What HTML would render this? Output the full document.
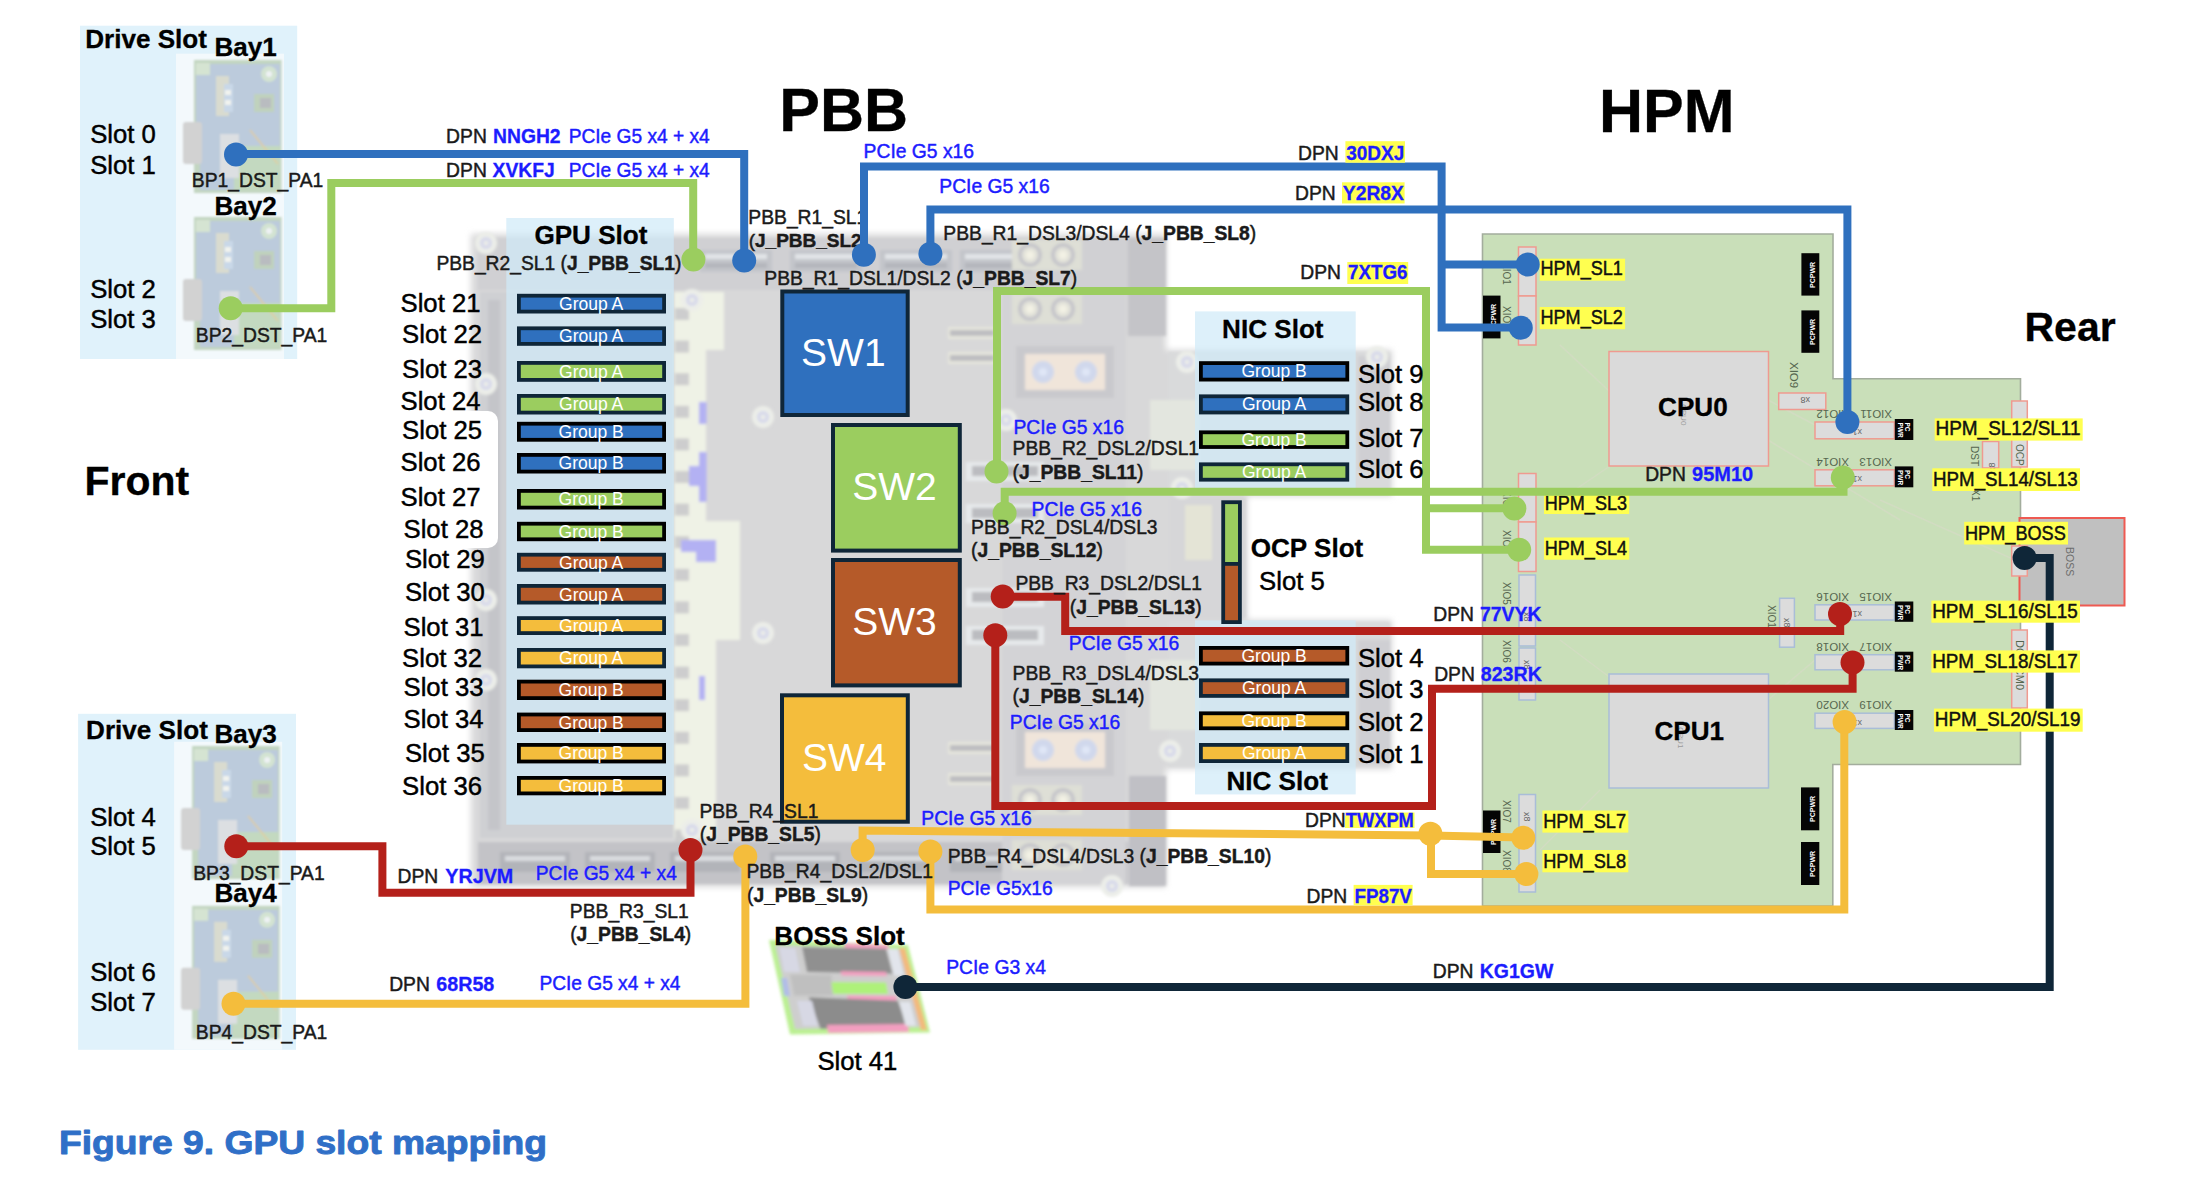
<!DOCTYPE html>
<html lang="en"><head><meta charset="utf-8"><title>Figure 9. GPU slot mapping</title>
<style>html,body{margin:0;padding:0;background:#fff;}body{width:2192px;height:1192px;overflow:hidden;}svg{display:block;}text{white-space:pre;}</style></head>
<body>
<svg width="2192" height="1192" viewBox="0 0 2192 1192" font-family="'Liberation Sans', Arial, sans-serif">
<defs>
<filter id="b1" x="-5%" y="-5%" width="110%" height="110%"><feGaussianBlur stdDeviation="1"/></filter>
<filter id="b15" x="-5%" y="-5%" width="110%" height="110%"><feGaussianBlur stdDeviation="1.4"/></filter>
<filter id="b2" x="-5%" y="-5%" width="110%" height="110%"><feGaussianBlur stdDeviation="2"/></filter>
<filter id="b3" x="-5%" y="-5%" width="110%" height="110%"><feGaussianBlur stdDeviation="3.2"/></filter>
<filter id="b05" x="-5%" y="-5%" width="110%" height="110%"><feGaussianBlur stdDeviation="0.6"/></filter>

</defs>
<rect x="0.0" y="0.0" width="2192.0" height="1192.0" fill="#ffffff" />
<rect x="80.0" y="25.7" width="217.2" height="333.3" fill="#e0f2fb" />
<rect x="176.0" y="53.7" width="108.0" height="305.3" fill="#f3f9fc" />
<g filter="url(#b1)"><g transform="translate(194.0 60)">
  <rect x="0" y="0" width="87.5" height="133" fill="#c3d6c1"/>
  <rect x="2" y="4" width="84" height="82" fill="#bccbdc"/>
  <rect x="6" y="78" width="34" height="52" fill="#bccbdc"/>
  <rect x="40" y="86" width="46" height="44" fill="#c3d9c0"/>
  <rect x="-11" y="62" width="19" height="42" rx="3" fill="#d2d2d2"/>
  <rect x="2" y="3" width="14" height="12" fill="#d5e4d2"/>
  <circle cx="75" cy="14" r="8" fill="#d3e3d2"/><circle cx="75" cy="14" r="3" fill="#eef2f4"/>
  <rect x="22" y="16" width="13" height="40" fill="#d9dbcf"/>
  <rect x="30" y="24" width="9" height="28" fill="#c9d8e8"/>
  <rect x="31" y="30" width="6" height="5" fill="#f1f3ee"/><rect x="31" y="40" width="6" height="5" fill="#f1f3ee"/>
  <rect x="60" y="34" width="20" height="18" fill="#c0d2bd"/><rect x="66" y="38" width="11" height="10" fill="#b9bcc0"/>
  <rect x="26" y="74" width="19" height="44" fill="#dcdfe2"/>
  <path d="M56 70 L84 104" stroke="#e0cda0" stroke-width="1.5"/>
</g></g>
<g filter="url(#b1)"><g transform="translate(194.0 217)">
  <rect x="0" y="0" width="87.5" height="133" fill="#c3d6c1"/>
  <rect x="2" y="4" width="84" height="82" fill="#bccbdc"/>
  <rect x="6" y="78" width="34" height="52" fill="#bccbdc"/>
  <rect x="40" y="86" width="46" height="44" fill="#c3d9c0"/>
  <rect x="-11" y="62" width="19" height="42" rx="3" fill="#d2d2d2"/>
  <rect x="2" y="3" width="14" height="12" fill="#d5e4d2"/>
  <circle cx="75" cy="14" r="8" fill="#d3e3d2"/><circle cx="75" cy="14" r="3" fill="#eef2f4"/>
  <rect x="22" y="16" width="13" height="40" fill="#d9dbcf"/>
  <rect x="30" y="24" width="9" height="28" fill="#c9d8e8"/>
  <rect x="31" y="30" width="6" height="5" fill="#f1f3ee"/><rect x="31" y="40" width="6" height="5" fill="#f1f3ee"/>
  <rect x="60" y="34" width="20" height="18" fill="#c0d2bd"/><rect x="66" y="38" width="11" height="10" fill="#b9bcc0"/>
  <rect x="26" y="74" width="19" height="44" fill="#dcdfe2"/>
  <path d="M56 70 L84 104" stroke="#e0cda0" stroke-width="1.5"/>
</g></g>
<rect x="78.1" y="713.8" width="217.9" height="336.0" fill="#e0f2fb" />
<rect x="174.1" y="741.8" width="108.0" height="308.0" fill="#f3f9fc" />
<g filter="url(#b1)"><g transform="translate(192.1 746)">
  <rect x="0" y="0" width="87.5" height="133" fill="#c3d6c1"/>
  <rect x="2" y="4" width="84" height="82" fill="#bccbdc"/>
  <rect x="6" y="78" width="34" height="52" fill="#bccbdc"/>
  <rect x="40" y="86" width="46" height="44" fill="#c3d9c0"/>
  <rect x="-11" y="62" width="19" height="42" rx="3" fill="#d2d2d2"/>
  <rect x="2" y="3" width="14" height="12" fill="#d5e4d2"/>
  <circle cx="75" cy="14" r="8" fill="#d3e3d2"/><circle cx="75" cy="14" r="3" fill="#eef2f4"/>
  <rect x="22" y="16" width="13" height="40" fill="#d9dbcf"/>
  <rect x="30" y="24" width="9" height="28" fill="#c9d8e8"/>
  <rect x="31" y="30" width="6" height="5" fill="#f1f3ee"/><rect x="31" y="40" width="6" height="5" fill="#f1f3ee"/>
  <rect x="60" y="34" width="20" height="18" fill="#c0d2bd"/><rect x="66" y="38" width="11" height="10" fill="#b9bcc0"/>
  <rect x="26" y="74" width="19" height="44" fill="#dcdfe2"/>
  <path d="M56 70 L84 104" stroke="#e0cda0" stroke-width="1.5"/>
</g></g>
<g filter="url(#b1)"><g transform="translate(192.1 905.8)">
  <rect x="0" y="0" width="87.5" height="133" fill="#c3d6c1"/>
  <rect x="2" y="4" width="84" height="82" fill="#bccbdc"/>
  <rect x="6" y="78" width="34" height="52" fill="#bccbdc"/>
  <rect x="40" y="86" width="46" height="44" fill="#c3d9c0"/>
  <rect x="-11" y="62" width="19" height="42" rx="3" fill="#d2d2d2"/>
  <rect x="2" y="3" width="14" height="12" fill="#d5e4d2"/>
  <circle cx="75" cy="14" r="8" fill="#d3e3d2"/><circle cx="75" cy="14" r="3" fill="#eef2f4"/>
  <rect x="22" y="16" width="13" height="40" fill="#d9dbcf"/>
  <rect x="30" y="24" width="9" height="28" fill="#c9d8e8"/>
  <rect x="31" y="30" width="6" height="5" fill="#f1f3ee"/><rect x="31" y="40" width="6" height="5" fill="#f1f3ee"/>
  <rect x="60" y="34" width="20" height="18" fill="#c0d2bd"/><rect x="66" y="38" width="11" height="10" fill="#b9bcc0"/>
  <rect x="26" y="74" width="19" height="44" fill="#dcdfe2"/>
  <path d="M56 70 L84 104" stroke="#e0cda0" stroke-width="1.5"/>
</g></g>
<g filter="url(#b3)">
<path d="M471 234 H1166 V350 H1392 V496 H1247 V620 H1392 V769 H1166 V887 H471 Z" fill="#d8d8d9"/>
</g>
<g filter="url(#b15)">
<rect x="478.0" y="238.0" width="650.0" height="52.0" fill="#d0d0d3" />
<rect x="700.0" y="250.0" width="72.0" height="22.0" fill="#c3c5ca" />
<rect x="705.0" y="254.0" width="62.0" height="5.0" fill="#e2e5e8" />
<rect x="705.0" y="263.0" width="62.0" height="5.0" fill="#b4b6bc" />
<rect x="790.0" y="250.0" width="72.0" height="22.0" fill="#c3c5ca" />
<rect x="795.0" y="254.0" width="62.0" height="5.0" fill="#e2e5e8" />
<rect x="795.0" y="263.0" width="62.0" height="5.0" fill="#b4b6bc" />
<rect x="880.0" y="250.0" width="72.0" height="22.0" fill="#c3c5ca" />
<rect x="885.0" y="254.0" width="62.0" height="5.0" fill="#e2e5e8" />
<rect x="885.0" y="263.0" width="62.0" height="5.0" fill="#b4b6bc" />
<rect x="960.0" y="250.0" width="72.0" height="22.0" fill="#c3c5ca" />
<rect x="965.0" y="254.0" width="62.0" height="5.0" fill="#e2e5e8" />
<rect x="965.0" y="263.0" width="62.0" height="5.0" fill="#b4b6bc" />
<rect x="478.0" y="842.0" width="650.0" height="42.0" fill="#c3c3c7" />
<rect x="500.0" y="852.0" width="70.0" height="20.0" fill="#b2b4b9" />
<rect x="505.0" y="856.0" width="60.0" height="5.0" fill="#dadde0" />
<rect x="585.0" y="852.0" width="70.0" height="20.0" fill="#b2b4b9" />
<rect x="590.0" y="856.0" width="60.0" height="5.0" fill="#dadde0" />
<rect x="670.0" y="852.0" width="70.0" height="20.0" fill="#b2b4b9" />
<rect x="675.0" y="856.0" width="60.0" height="5.0" fill="#dadde0" />
<rect x="770.0" y="852.0" width="70.0" height="20.0" fill="#b2b4b9" />
<rect x="775.0" y="856.0" width="60.0" height="5.0" fill="#dadde0" />
<rect x="860.0" y="852.0" width="70.0" height="20.0" fill="#b2b4b9" />
<rect x="865.0" y="856.0" width="60.0" height="5.0" fill="#dadde0" />
<rect x="950.0" y="852.0" width="70.0" height="20.0" fill="#b2b4b9" />
<rect x="955.0" y="856.0" width="60.0" height="5.0" fill="#dadde0" />
<rect x="480.0" y="292.0" width="194.0" height="546.0" fill="#cfd0d3" />
<rect x="488.0" y="300.0" width="12.0" height="530.0" fill="#c4c5c9" />
<rect x="674.0" y="292.0" width="32.0" height="546.0" fill="#eff2e6" />
<rect x="675.0" y="308.0" width="14.0" height="12.0" fill="#cdcdce" />
<rect x="675.0" y="340.6" width="14.0" height="12.0" fill="#cdcdce" />
<rect x="675.0" y="373.2" width="14.0" height="12.0" fill="#cdcdce" />
<rect x="675.0" y="405.8" width="14.0" height="12.0" fill="#cdcdce" />
<rect x="675.0" y="438.4" width="14.0" height="12.0" fill="#cdcdce" />
<rect x="675.0" y="471.0" width="14.0" height="12.0" fill="#cdcdce" />
<rect x="675.0" y="503.6" width="14.0" height="12.0" fill="#cdcdce" />
<rect x="675.0" y="536.2" width="14.0" height="12.0" fill="#cdcdce" />
<rect x="675.0" y="568.8" width="14.0" height="12.0" fill="#cdcdce" />
<rect x="675.0" y="601.4" width="14.0" height="12.0" fill="#cdcdce" />
<rect x="675.0" y="634.0" width="14.0" height="12.0" fill="#cdcdce" />
<rect x="675.0" y="666.6" width="14.0" height="12.0" fill="#cdcdce" />
<rect x="675.0" y="699.2" width="14.0" height="12.0" fill="#cdcdce" />
<rect x="675.0" y="731.8" width="14.0" height="12.0" fill="#cdcdce" />
<rect x="675.0" y="764.4" width="14.0" height="12.0" fill="#cdcdce" />
<rect x="675.0" y="797.0" width="14.0" height="12.0" fill="#cdcdce" />
<rect x="675.0" y="829.6" width="14.0" height="12.0" fill="#cdcdce" />
<rect x="706.0" y="292.0" width="10.0" height="26.0" fill="#eff2e6" />
<path d="M706 521 H740 V640 H716 V838 H706 Z" fill="#eff2e6"/>
<path d="M706 292 H724 V350 H706 Z" fill="#eff2e6"/>
<rect x="699.0" y="402.0" width="7.5" height="22.0" fill="#b3b1f3" />
<rect x="699.0" y="452.0" width="7.5" height="50.0" fill="#b3b1f3" />
<rect x="689.0" y="466.0" width="11.0" height="20.0" fill="#b3b1f3" />
<path d="M681 540 H716 V545 H716 V562 H696 V552 H681 Z" fill="#b3b1f3"/>
<rect x="699.0" y="676.0" width="6.0" height="24.0" fill="#b3b1f3" />
<rect x="1002.0" y="292.0" width="124.0" height="592.0" fill="#d3d3d6" />
<rect x="1128.0" y="238.0" width="38.0" height="98.0" fill="#c4c4c8" />
<rect x="1129.0" y="776.0" width="37.0" height="110.0" fill="#c0c0c5" />
<rect x="1012.0" y="240.0" width="70.0" height="30.0" fill="#dedfd6" />
<circle cx="1030" cy="255" r="12" fill="#c6c6ca"/><circle cx="1030" cy="255" r="8" fill="#e3e3da"/><circle cx="1030" cy="255" r="4" fill="#f2f1e4"/>
<circle cx="1063" cy="255" r="12" fill="#c6c6ca"/><circle cx="1063" cy="255" r="8" fill="#e3e3da"/><circle cx="1063" cy="255" r="4" fill="#f2f1e4"/>
<rect x="1012.0" y="294.0" width="70.0" height="30.0" fill="#dedfd6" />
<circle cx="1030" cy="309" r="12" fill="#c6c6ca"/><circle cx="1030" cy="309" r="8" fill="#e3e3da"/><circle cx="1030" cy="309" r="4" fill="#f2f1e4"/>
<circle cx="1063" cy="309" r="12" fill="#c6c6ca"/><circle cx="1063" cy="309" r="8" fill="#e3e3da"/><circle cx="1063" cy="309" r="4" fill="#f2f1e4"/>
<rect x="1012.0" y="785.0" width="70.0" height="30.0" fill="#dedfd6" />
<circle cx="1030" cy="800" r="12" fill="#c6c6ca"/><circle cx="1030" cy="800" r="8" fill="#e3e3da"/><circle cx="1030" cy="800" r="4" fill="#f2f1e4"/>
<circle cx="1063" cy="800" r="12" fill="#c6c6ca"/><circle cx="1063" cy="800" r="8" fill="#e3e3da"/><circle cx="1063" cy="800" r="4" fill="#f2f1e4"/>
<rect x="1012.0" y="840.0" width="70.0" height="30.0" fill="#dedfd6" />
<circle cx="1030" cy="855" r="12" fill="#c6c6ca"/><circle cx="1030" cy="855" r="8" fill="#e3e3da"/><circle cx="1030" cy="855" r="4" fill="#f2f1e4"/>
<circle cx="1063" cy="855" r="12" fill="#c6c6ca"/><circle cx="1063" cy="855" r="8" fill="#e3e3da"/><circle cx="1063" cy="855" r="4" fill="#f2f1e4"/>
<rect x="1016.0" y="346.0" width="98.0" height="52.0" fill="#c9c9cd" />
<rect x="1025.0" y="354.0" width="80.0" height="36.0" fill="#f0e5da" />
<circle cx="1043" cy="372" r="11" fill="#d0d8ec"/><circle cx="1043" cy="372" r="4" fill="#dfe6f6"/>
<circle cx="1086" cy="372" r="11" fill="#d0d8ec"/><circle cx="1086" cy="372" r="4" fill="#dfe6f6"/>
<rect x="1016.0" y="724.0" width="98.0" height="52.0" fill="#c9c9cd" />
<rect x="1025.0" y="732.0" width="80.0" height="36.0" fill="#f0e5da" />
<circle cx="1043" cy="750" r="11" fill="#d0d8ec"/><circle cx="1043" cy="750" r="4" fill="#dfe6f6"/>
<circle cx="1086" cy="750" r="11" fill="#d0d8ec"/><circle cx="1086" cy="750" r="4" fill="#dfe6f6"/>
<rect x="948.0" y="327.0" width="48.0" height="12.0" fill="#e6e6dd" />
<rect x="950.0" y="330.0" width="44.0" height="6.0" fill="#bdbdc1" />
<rect x="948.0" y="352.0" width="48.0" height="12.0" fill="#e6e6dd" />
<rect x="950.0" y="355.0" width="44.0" height="6.0" fill="#bdbdc1" />
<rect x="948.0" y="742.0" width="48.0" height="12.0" fill="#e6e6dd" />
<rect x="950.0" y="745.0" width="44.0" height="6.0" fill="#bdbdc1" />
<rect x="948.0" y="773.0" width="48.0" height="12.0" fill="#e6e6dd" />
<rect x="950.0" y="776.0" width="44.0" height="6.0" fill="#bdbdc1" />
<rect x="1168.0" y="352.0" width="222.0" height="142.0" fill="#d9dadb" />
<rect x="1168.0" y="622.0" width="222.0" height="145.0" fill="#d9dadb" />
<rect x="1358.0" y="356.0" width="32.0" height="114.0" fill="#cfcfd3" />
<rect x="1358.0" y="640.0" width="32.0" height="124.0" fill="#cfcfd3" />
<rect x="1170.0" y="498.0" width="76.0" height="120.0" fill="#d6d6d8" />
<rect x="1185.0" y="505.0" width="27.0" height="55.0" fill="#e4e4d6" />
<rect x="1150.0" y="400.0" width="50.0" height="70.0" fill="#e3e6df" />
<rect x="1150.0" y="660.0" width="50.0" height="70.0" fill="#e3e6df" />
<rect x="966.0" y="462.0" width="78.0" height="19.0" fill="#e6e9eb" />
<rect x="972.0" y="466.0" width="66.0" height="10.0" fill="#bbbcc0" />
<rect x="966.0" y="504.0" width="78.0" height="19.0" fill="#e6e9eb" />
<rect x="972.0" y="508.0" width="66.0" height="10.0" fill="#bbbcc0" />
<rect x="966.0" y="588.0" width="78.0" height="19.0" fill="#e6e9eb" />
<rect x="972.0" y="592.0" width="66.0" height="10.0" fill="#bbbcc0" />
<rect x="966.0" y="626.0" width="78.0" height="19.0" fill="#e6e9eb" />
<rect x="972.0" y="630.0" width="66.0" height="10.0" fill="#bbbcc0" />
<circle cx="486" cy="243" r="11" fill="#eceee9"/><circle cx="486" cy="243" r="6" fill="#d6d8ea"/><circle cx="486" cy="243" r="2.5" fill="#eceee9"/>
<circle cx="692" cy="300" r="11" fill="#eceee9"/><circle cx="692" cy="300" r="6" fill="#d6d8ea"/><circle cx="692" cy="300" r="2.5" fill="#eceee9"/>
<circle cx="763" cy="417" r="11" fill="#eceee9"/><circle cx="763" cy="417" r="6" fill="#d6d8ea"/><circle cx="763" cy="417" r="2.5" fill="#eceee9"/>
<circle cx="1187" cy="362" r="11" fill="#eceee9"/><circle cx="1187" cy="362" r="6" fill="#d6d8ea"/><circle cx="1187" cy="362" r="2.5" fill="#eceee9"/>
<circle cx="1377" cy="357" r="11" fill="#eceee9"/><circle cx="1377" cy="357" r="6" fill="#d6d8ea"/><circle cx="1377" cy="357" r="2.5" fill="#eceee9"/>
<circle cx="763" cy="633" r="11" fill="#eceee9"/><circle cx="763" cy="633" r="6" fill="#d6d8ea"/><circle cx="763" cy="633" r="2.5" fill="#eceee9"/>
<circle cx="486" cy="384" r="11" fill="#eceee9"/><circle cx="486" cy="384" r="6" fill="#d6d8ea"/><circle cx="486" cy="384" r="2.5" fill="#eceee9"/>
<circle cx="486" cy="600" r="11" fill="#eceee9"/><circle cx="486" cy="600" r="6" fill="#d6d8ea"/><circle cx="486" cy="600" r="2.5" fill="#eceee9"/>
<circle cx="486" cy="680" r="11" fill="#eceee9"/><circle cx="486" cy="680" r="6" fill="#d6d8ea"/><circle cx="486" cy="680" r="2.5" fill="#eceee9"/>
<circle cx="692" cy="830" r="11" fill="#eceee9"/><circle cx="692" cy="830" r="6" fill="#d6d8ea"/><circle cx="692" cy="830" r="2.5" fill="#eceee9"/>
<circle cx="1182" cy="488" r="11" fill="#eceee9"/><circle cx="1182" cy="488" r="6" fill="#d6d8ea"/><circle cx="1182" cy="488" r="2.5" fill="#eceee9"/>
<circle cx="1170" cy="751" r="11" fill="#eceee9"/><circle cx="1170" cy="751" r="6" fill="#d6d8ea"/><circle cx="1170" cy="751" r="2.5" fill="#eceee9"/>
<circle cx="1006" cy="420" r="11" fill="#eceee9"/><circle cx="1006" cy="420" r="6" fill="#d6d8ea"/><circle cx="1006" cy="420" r="2.5" fill="#eceee9"/>
<circle cx="1112" cy="886" r="11" fill="#eceee9"/><circle cx="1112" cy="886" r="6" fill="#d6d8ea"/><circle cx="1112" cy="886" r="2.5" fill="#eceee9"/>
</g>
<rect x="380" y="411" width="118" height="137" rx="10" fill="#ffffff" filter="url(#b05)"/>
<path d="M1482.5 234 H1833 V378.8 H2020.5 V764.5 H1832.8 V906 H1482.5 Z" fill="#c9dfb9" stroke="#a3ad9d" stroke-width="1.6"/>
<g stroke="#d3dcc3" stroke-width="1.5" fill="none" opacity="0.9"><path d="M1560 345 L1640 420"/><path d="M1768 440 L1900 520"/><path d="M1768 400 L1815 425"/><path d="M1560 640 L1640 700"/><path d="M1768 700 L1815 660"/><path d="M1600 790 L1540 850"/><path d="M1610 466 L1560 500"/><path d="M1880 500 L2015 560"/></g>
<rect x="2019.5" y="518" width="105" height="87.5" fill="#c0c0c0" stroke="#ee5a52" stroke-width="2"/>
<rect x="1609" y="351.5" width="159.5" height="114.5" fill="#dadada" stroke="#ef9a90" stroke-width="1.5"/>
<rect x="1609" y="674" width="159.5" height="114.0" fill="#dadada" stroke="#a9bdd8" stroke-width="1.5"/>
<rect x="1518.5" y="247" width="17.5" height="49.0" fill="#dcdcdc" stroke="#ef9a90" stroke-width="1.5"/>
<rect x="1518.5" y="296" width="17.5" height="49.0" fill="#dcdcdc" stroke="#ef9a90" stroke-width="1.5"/>
<rect x="1518.5" y="473.5" width="17.5" height="48.5" fill="#dcdcdc" stroke="#ef9a90" stroke-width="1.5"/>
<rect x="1518.5" y="522" width="17.5" height="49.5" fill="#dcdcdc" stroke="#ef9a90" stroke-width="1.5"/>
<rect x="1519" y="575" width="16.5" height="71.0" fill="#dcdcdc" stroke="#a9bdd8" stroke-width="1.5"/>
<rect x="1519" y="648" width="16.5" height="52.0" fill="#dcdcdc" stroke="#a9bdd8" stroke-width="1.5"/>
<rect x="1519" y="794.5" width="16.5" height="97.5" fill="#dcdcdc" stroke="#a9bdd8" stroke-width="1.5"/>
<rect x="1778.7" y="393" width="47.1" height="16.5" fill="#dcdcdc" stroke="#ef9a90" stroke-width="1.5"/>
<rect x="1815" y="422" width="79.4" height="16.8" fill="#dcdcdc" stroke="#ef9a90" stroke-width="1.5"/>
<rect x="1815" y="469.8" width="79.4" height="16.0" fill="#dcdcdc" stroke="#ef9a90" stroke-width="1.5"/>
<rect x="1815" y="604.8" width="79.4" height="15.2" fill="#dcdcdc" stroke="#a9bdd8" stroke-width="1.5"/>
<rect x="1815" y="654.7" width="79.4" height="15.1" fill="#dcdcdc" stroke="#a9bdd8" stroke-width="1.5"/>
<rect x="1815" y="713.2" width="79.4" height="15.2" fill="#dcdcdc" stroke="#a9bdd8" stroke-width="1.5"/>
<rect x="1779.6" y="598.3" width="14.8" height="48.9" fill="#dcdcdc" stroke="#a9bdd8" stroke-width="1.5"/>
<rect x="2011.7" y="401" width="15.6" height="66.0" fill="#dcdcdc" stroke="#ef9a90" stroke-width="1.5"/>
<rect x="1982.5" y="441.5" width="16.2" height="26.5" fill="#dcdcdc" stroke="#ef9a90" stroke-width="1.5"/>
<rect x="2011.7" y="630" width="15.6" height="78.0" fill="#dcdcdc" stroke="#ef9a90" stroke-width="1.5"/>
<rect x="2011.7" y="546" width="15.6" height="30.0" fill="#dcdcdc" stroke="#ef9a90" stroke-width="1.5"/>
<rect x="1483.0" y="295.6" width="17.5" height="42.8" fill="#050505" />
<rect x="1801.4" y="253.2" width="17.9" height="42.4" fill="#050505" />
<rect x="1801.4" y="310.4" width="17.9" height="42.4" fill="#050505" />
<rect x="1483.0" y="810.5" width="17.5" height="42.5" fill="#050505" />
<rect x="1801.0" y="787.4" width="18.3" height="42.9" fill="#050505" />
<rect x="1801.0" y="842.0" width="18.3" height="43.0" fill="#050505" />
<rect x="1894.8" y="419.0" width="18.5" height="21.0" fill="#050505" />
<rect x="1894.8" y="466.4" width="18.5" height="20.9" fill="#050505" />
<rect x="1894.8" y="601.5" width="18.5" height="20.3" fill="#050505" />
<rect x="1894.8" y="651.7" width="18.5" height="20.0" fill="#050505" />
<rect x="1894.8" y="710.0" width="18.5" height="20.0" fill="#050505" />
<text x="1849" y="410.0" font-size="11.5" fill="#55664f" text-anchor="start" transform="rotate(180 1849 410.0)">XIO12</text>
<text x="1892" y="410.0" font-size="11.5" fill="#55664f" text-anchor="start" transform="rotate(180 1892 410.0)">XIO11</text>
<text x="1862" y="428.5" font-size="9" fill="#6a6a6a" text-anchor="start" transform="rotate(180 1862 428.5)">x1</text>
<text x="1904.5" y="422.5" font-size="6.5" font-weight="bold" fill="#fff" transform="rotate(90 1904.5 422.5)">PC</text>
<text x="1897.5" y="422.5" font-size="6.5" font-weight="bold" fill="#fff" transform="rotate(90 1897.5 422.5)">PWR</text>
<text x="1849" y="457.5" font-size="11.5" fill="#55664f" text-anchor="start" transform="rotate(180 1849 457.5)">XIO14</text>
<text x="1892" y="457.5" font-size="11.5" fill="#55664f" text-anchor="start" transform="rotate(180 1892 457.5)">XIO13</text>
<text x="1862" y="476" font-size="9" fill="#6a6a6a" text-anchor="start" transform="rotate(180 1862 476)">x1</text>
<text x="1904.5" y="470.0" font-size="6.5" font-weight="bold" fill="#fff" transform="rotate(90 1904.5 470.0)">PC</text>
<text x="1897.5" y="470.0" font-size="6.5" font-weight="bold" fill="#fff" transform="rotate(90 1897.5 470.0)">PWR</text>
<text x="1849" y="592.5" font-size="11.5" fill="#55664f" text-anchor="start" transform="rotate(180 1849 592.5)">XIO16</text>
<text x="1892" y="592.5" font-size="11.5" fill="#55664f" text-anchor="start" transform="rotate(180 1892 592.5)">XIO15</text>
<text x="1862" y="611" font-size="9" fill="#6a6a6a" text-anchor="start" transform="rotate(180 1862 611)">x1</text>
<text x="1904.5" y="605.0" font-size="6.5" font-weight="bold" fill="#fff" transform="rotate(90 1904.5 605.0)">PC</text>
<text x="1897.5" y="605.0" font-size="6.5" font-weight="bold" fill="#fff" transform="rotate(90 1897.5 605.0)">PWR</text>
<text x="1849" y="642.5" font-size="11.5" fill="#55664f" text-anchor="start" transform="rotate(180 1849 642.5)">XIO18</text>
<text x="1892" y="642.5" font-size="11.5" fill="#55664f" text-anchor="start" transform="rotate(180 1892 642.5)">XIO17</text>
<text x="1862" y="661" font-size="9" fill="#6a6a6a" text-anchor="start" transform="rotate(180 1862 661)">x1</text>
<text x="1904.5" y="655.0" font-size="6.5" font-weight="bold" fill="#fff" transform="rotate(90 1904.5 655.0)">PC</text>
<text x="1897.5" y="655.0" font-size="6.5" font-weight="bold" fill="#fff" transform="rotate(90 1897.5 655.0)">PWR</text>
<text x="1849" y="701.0" font-size="11.5" fill="#55664f" text-anchor="start" transform="rotate(180 1849 701.0)">XIO20</text>
<text x="1892" y="701.0" font-size="11.5" fill="#55664f" text-anchor="start" transform="rotate(180 1892 701.0)">XIO19</text>
<text x="1862" y="719.5" font-size="9" fill="#6a6a6a" text-anchor="start" transform="rotate(180 1862 719.5)">x1</text>
<text x="1904.5" y="713.5" font-size="6.5" font-weight="bold" fill="#fff" transform="rotate(90 1904.5 713.5)">PC</text>
<text x="1897.5" y="713.5" font-size="6.5" font-weight="bold" fill="#fff" transform="rotate(90 1897.5 713.5)">PWR</text>
<text x="1790" y="362" font-size="11.5" fill="#55664f" text-anchor="start" transform="rotate(90 1790 362)">XIO9</text>
<text x="1810" y="397" font-size="9" fill="#666" text-anchor="start" transform="rotate(180 1810 397)">x8</text>
<text x="2066" y="547" font-size="10.5" fill="#6e6e6e" text-anchor="start" transform="rotate(90 2066 547)">BOSS</text>
<text x="2015.5" y="444" font-size="10" fill="#55664f" text-anchor="start" transform="rotate(90 2015.5 444)">OCP</text>
<text x="2015.5" y="640" font-size="11" fill="#55664f" text-anchor="start" transform="rotate(90 2015.5 640)">DC-SCM0</text>
<text x="1971" y="446" font-size="10" fill="#55664f" text-anchor="start" transform="rotate(90 1971 446)">DST</text>
<text x="1994.5" y="472" font-size="9" fill="#666" text-anchor="start" transform="rotate(-90 1994.5 472)">x8</text>
<text x="1972" y="489" font-size="10" fill="#55664f" text-anchor="start" transform="rotate(90 1972 489)">X1</text>
<text x="1503" y="262" font-size="10" fill="#55664f" text-anchor="start" transform="rotate(90 1503 262)">XIO1</text>
<text x="1503" y="306" font-size="10" fill="#55664f" text-anchor="start" transform="rotate(90 1503 306)">XIO2</text>
<text x="1503" y="490" font-size="10" fill="#55664f" text-anchor="start" transform="rotate(90 1503 490)">XIO3</text>
<text x="1503" y="530" font-size="10" fill="#55664f" text-anchor="start" transform="rotate(90 1503 530)">XIO4</text>
<text x="1503" y="582" font-size="10" fill="#55664f" text-anchor="start" transform="rotate(90 1503 582)">XIO5</text>
<text x="1503" y="640" font-size="10" fill="#55664f" text-anchor="start" transform="rotate(90 1503 640)">XIO6</text>
<text x="1503" y="800" font-size="10" fill="#55664f" text-anchor="start" transform="rotate(90 1503 800)">XIO7</text>
<text x="1503" y="850" font-size="10" fill="#55664f" text-anchor="start" transform="rotate(90 1503 850)">XIO8</text>
<text x="1524" y="612" font-size="9" fill="#666" text-anchor="start" transform="rotate(90 1524 612)">x8</text>
<text x="1524" y="660" font-size="9" fill="#666" text-anchor="start" transform="rotate(90 1524 660)">x8</text>
<text x="1524" y="812" font-size="9" fill="#666" text-anchor="start" transform="rotate(90 1524 812)">x8</text>
<text x="1768" y="605" font-size="10" fill="#55664f" text-anchor="start" transform="rotate(90 1768 605)">XIO10</text>
<text x="1784" y="618" font-size="9" fill="#666" text-anchor="start" transform="rotate(90 1784 618)">x8</text>
<text x="1681" y="404" font-size="8" fill="#9a9a9a" text-anchor="start" transform="rotate(90 1681 404)">CPU0</text>
<text x="1678" y="727" font-size="8" fill="#9a9a9a" text-anchor="start" transform="rotate(90 1678 727)">CPU1</text>
<text x="1495.5" y="330" font-size="7" font-weight="bold" fill="#fff" transform="rotate(-90 1495.5 330)">PCPWR</text>
<text x="1814.5" y="288" font-size="7" font-weight="bold" fill="#fff" transform="rotate(-90 1814.5 288)">PCPWR</text>
<text x="1814.5" y="345" font-size="7" font-weight="bold" fill="#fff" transform="rotate(-90 1814.5 345)">PCPWR</text>
<text x="1495.5" y="845" font-size="7" font-weight="bold" fill="#fff" transform="rotate(-90 1495.5 845)">PCPWR</text>
<text x="1814.5" y="822" font-size="7" font-weight="bold" fill="#fff" transform="rotate(-90 1814.5 822)">PCPWR</text>
<text x="1814.5" y="877" font-size="7" font-weight="bold" fill="#fff" transform="rotate(-90 1814.5 877)">PCPWR</text>
<rect x="506.3" y="218.0" width="167.5" height="606.7" fill="rgba(208,234,248,0.72)" />
<rect x="1195.0" y="311.4" width="160.7" height="179.6" fill="rgba(208,234,248,0.72)" />
<rect x="1195.0" y="620.3" width="160.7" height="174.1" fill="rgba(208,234,248,0.72)" />
<text x="748.3" y="224.3" font-size="19.3" fill="#1a1a1a" stroke="#1a1a1a" stroke-width="0.45" text-anchor="start" >PBB_R1_SL1</text>
<text x="748.7" y="246.8" font-size="19" fill="#1a1a1a" stroke="#1a1a1a" stroke-width="0.45" text-anchor="start" >(<tspan font-weight="bold">J_PBB_SL2</tspan>)</text>
<rect x="517.0" y="293.8" width="149.0" height="19.7" fill="#0f2638"/>
<rect x="520.8" y="297.6" width="141.4" height="12.1" fill="#2f70be"/>
<text x="591.2" y="309.8" font-size="17.5" fill="#ffffff" text-anchor="middle" >Group A</text>
<rect x="517.0" y="326.4" width="149.0" height="19.4" fill="#0f2638"/>
<rect x="520.8" y="330.2" width="141.4" height="11.8" fill="#2f70be"/>
<text x="591.2" y="342.3" font-size="17.5" fill="#ffffff" text-anchor="middle" >Group A</text>
<rect x="517.0" y="361.0" width="149.0" height="20.8" fill="#0f2638"/>
<rect x="520.8" y="364.8" width="141.4" height="13.2" fill="#9bcd5f"/>
<text x="591.2" y="377.6" font-size="17.5" fill="#ffffff" text-anchor="middle" >Group A</text>
<rect x="517.0" y="394.0" width="149.0" height="20.5" fill="#0f2638"/>
<rect x="520.8" y="397.8" width="141.4" height="12.9" fill="#9bcd5f"/>
<text x="591.2" y="410.4" font-size="17.5" fill="#ffffff" text-anchor="middle" >Group A</text>
<rect x="517.0" y="421.8" width="149.0" height="19.9" fill="#000000"/>
<rect x="520.8" y="425.6" width="141.4" height="12.3" fill="#2f70be"/>
<text x="591.2" y="437.9" font-size="17.5" fill="#ffffff" text-anchor="middle" >Group B</text>
<rect x="517.0" y="453.0" width="149.0" height="20.5" fill="#000000"/>
<rect x="520.8" y="456.8" width="141.4" height="12.9" fill="#2f70be"/>
<text x="591.2" y="469.4" font-size="17.5" fill="#ffffff" text-anchor="middle" >Group B</text>
<rect x="517.0" y="489.0" width="149.0" height="20.5" fill="#000000"/>
<rect x="520.8" y="492.8" width="141.4" height="12.9" fill="#9bcd5f"/>
<text x="591.2" y="505.4" font-size="17.5" fill="#ffffff" text-anchor="middle" >Group B</text>
<rect x="517.0" y="521.8" width="149.0" height="19.4" fill="#000000"/>
<rect x="520.8" y="525.6" width="141.4" height="11.8" fill="#9bcd5f"/>
<text x="591.2" y="537.7" font-size="17.5" fill="#ffffff" text-anchor="middle" >Group B</text>
<rect x="517.0" y="552.8" width="149.0" height="18.9" fill="#0f2638"/>
<rect x="520.8" y="556.6" width="141.4" height="11.3" fill="#b55a29"/>
<text x="591.2" y="568.5" font-size="17.5" fill="#ffffff" text-anchor="middle" >Group A</text>
<rect x="517.0" y="584.0" width="149.0" height="20.5" fill="#0f2638"/>
<rect x="520.8" y="587.8" width="141.4" height="12.9" fill="#b55a29"/>
<text x="591.2" y="600.5" font-size="17.5" fill="#ffffff" text-anchor="middle" >Group A</text>
<rect x="517.0" y="616.2" width="149.0" height="18.8" fill="#0f2638"/>
<rect x="520.8" y="620.0" width="141.4" height="11.2" fill="#f4bd3c"/>
<text x="591.2" y="631.8" font-size="17.5" fill="#ffffff" text-anchor="middle" >Group A</text>
<rect x="517.0" y="648.0" width="149.0" height="20.3" fill="#0f2638"/>
<rect x="520.8" y="651.8" width="141.4" height="12.7" fill="#f4bd3c"/>
<text x="591.2" y="664.4" font-size="17.5" fill="#ffffff" text-anchor="middle" >Group A</text>
<rect x="517.0" y="679.7" width="149.0" height="20.3" fill="#000000"/>
<rect x="520.8" y="683.5" width="141.4" height="12.7" fill="#b55a29"/>
<text x="591.2" y="696.1" font-size="17.5" fill="#ffffff" text-anchor="middle" >Group B</text>
<rect x="517.0" y="712.6" width="149.0" height="19.4" fill="#000000"/>
<rect x="520.8" y="716.4" width="141.4" height="11.8" fill="#b55a29"/>
<text x="591.2" y="728.5" font-size="17.5" fill="#ffffff" text-anchor="middle" >Group B</text>
<rect x="517.0" y="743.0" width="149.0" height="20.4" fill="#000000"/>
<rect x="520.8" y="746.8" width="141.4" height="12.8" fill="#f4bd3c"/>
<text x="591.2" y="759.4" font-size="17.5" fill="#ffffff" text-anchor="middle" >Group B</text>
<rect x="517.0" y="776.0" width="149.0" height="19.3" fill="#000000"/>
<rect x="520.8" y="779.8" width="141.4" height="11.7" fill="#f4bd3c"/>
<text x="591.2" y="791.9" font-size="17.5" fill="#ffffff" text-anchor="middle" >Group B</text>
<rect x="1199.0" y="361.2" width="150.2" height="20.3" fill="#000000"/>
<rect x="1202.8" y="365.0" width="142.6" height="12.7" fill="#2f70be"/>
<text x="1274.1" y="377.4" font-size="17.5" fill="#ffffff" text-anchor="middle" >Group B</text>
<rect x="1199.0" y="394.4" width="150.2" height="20.0" fill="#0f2638"/>
<rect x="1202.8" y="398.2" width="142.6" height="12.4" fill="#2f70be"/>
<text x="1274.1" y="410.4" font-size="17.5" fill="#ffffff" text-anchor="middle" >Group A</text>
<rect x="1199.0" y="430.4" width="150.2" height="18.5" fill="#000000"/>
<rect x="1202.8" y="434.2" width="142.6" height="10.9" fill="#9bcd5f"/>
<text x="1274.1" y="445.6" font-size="17.5" fill="#ffffff" text-anchor="middle" >Group B</text>
<rect x="1199.0" y="462.4" width="150.2" height="19.2" fill="#0f2638"/>
<rect x="1202.8" y="466.2" width="142.6" height="11.6" fill="#9bcd5f"/>
<text x="1274.1" y="478.0" font-size="17.5" fill="#ffffff" text-anchor="middle" >Group A</text>
<rect x="1199.0" y="646.0" width="150.2" height="19.5" fill="#000000"/>
<rect x="1202.8" y="649.8" width="142.6" height="11.9" fill="#b55a29"/>
<text x="1274.1" y="661.8" font-size="17.5" fill="#ffffff" text-anchor="middle" >Group B</text>
<rect x="1199.0" y="678.4" width="150.2" height="19.4" fill="#0f2638"/>
<rect x="1202.8" y="682.2" width="142.6" height="11.8" fill="#b55a29"/>
<text x="1274.1" y="694.1" font-size="17.5" fill="#ffffff" text-anchor="middle" >Group A</text>
<rect x="1199.0" y="711.4" width="150.2" height="18.8" fill="#000000"/>
<rect x="1202.8" y="715.2" width="142.6" height="11.2" fill="#f4bd3c"/>
<text x="1274.1" y="726.8" font-size="17.5" fill="#ffffff" text-anchor="middle" >Group B</text>
<rect x="1199.0" y="743.0" width="150.2" height="20.0" fill="#0f2638"/>
<rect x="1202.8" y="746.8" width="142.6" height="12.4" fill="#f4bd3c"/>
<text x="1274.1" y="759.0" font-size="17.5" fill="#ffffff" text-anchor="middle" >Group A</text>
<rect x="1221.3" y="500.3" width="20.5" height="123.7" fill="#0f2638" />
<rect x="1225.1" y="504.1" width="12.9" height="57.9" fill="#9bcd5f" />
<rect x="1225.1" y="565.8" width="12.9" height="54.4" fill="#b55a29" />
<rect x="780.3" y="289.5" width="129.4" height="127.5" fill="#0f2638"/>
<rect x="784.3" y="293.5" width="121.4" height="119.5" fill="#2f70be"/>
<rect x="831.0" y="423.0" width="130.8" height="129.6" fill="#0f2638"/>
<rect x="835.0" y="427.0" width="122.8" height="121.6" fill="#9bcd5f"/>
<rect x="831.0" y="558.0" width="130.8" height="129.4" fill="#0f2638"/>
<rect x="835.0" y="562.0" width="122.8" height="121.4" fill="#b55a29"/>
<rect x="780.0" y="693.3" width="129.8" height="130.4" fill="#0f2638"/>
<rect x="784.0" y="697.3" width="121.8" height="122.4" fill="#f4bd3c"/>
<text x="801.1" y="366.4" font-size="39" fill="#fff" text-anchor="start" >SW1</text>
<text x="852.2" y="500.0" font-size="39" fill="#fff" text-anchor="start" >SW2</text>
<text x="852.2" y="634.8" font-size="39" fill="#fff" text-anchor="start" >SW3</text>
<text x="802.0" y="771.3" font-size="39" fill="#fff" text-anchor="start" >SW4</text>
<g filter="url(#b15)" opacity="0.9">
<path d="M769 940 L908 945 L930 1032.5 L790 1034.5 Z" fill="#b4ee86"/>
<path d="M775 945 L900 949 L922 1027 L795 1029 Z" fill="#c9c9c9"/>
<path d="M844 943.3 L888 945 L889 949 L845 948 Z" fill="#f294ba"/>
<path d="M802 947 L886 948.7 L892.7 973.8 L807 972 Z" fill="#858585"/>
<path d="M840.7 971.3 L886 972 L887 976 L841.5 975.5 Z" fill="#f294ba"/>
<path d="M790 974.7 L831.4 975 L833 995.6 L794 995.6 Z" fill="#b9b9b9"/>
<path d="M831.4 982 L886 982.5 L888 994 L833 994 Z" fill="#a6f06c"/>
<path d="M847 995.6 L896 996 L897 1000.7 L848 1000.7 Z" fill="#f294ba"/>
<path d="M808.8 997.3 L897.7 1000.7 L907.8 1027.5 L820.5 1029 Z" fill="#808080"/>
<path d="M827 1025 L907.8 1024 L909 1032 L828 1033 Z" fill="#f294ba"/>
<path d="M779.4 947.8 L795.4 948.3 L800 972 L784 972 Z" fill="#d3d4e2"/>
<path d="M797 1000.7 L812 1001 L818 1025.8 L803 1025.8 Z" fill="#d3d4e2"/>
<path d="M887.7 948.7 L897.7 949 L904 975.5 L894 975.5 Z" fill="#dfe3ea"/>
<path d="M899.4 1002 L910 1002 L916 1025.8 L905.5 1025.8 Z" fill="#dfe3ea"/>
<path d="M899 948 L905 948 L927 1030 L921 1030 Z" fill="#f2b26e"/>
<path d="M781 978 L787 978 L790 996 L784 996 Z" fill="#a9b6e6"/>
</g>
<path d="M905.4 987 H2049.7 V558 H2024.6" fill="none" stroke="#0f2638" stroke-width="8" stroke-linejoin="miter" stroke-linecap="butt"/>
<circle cx="905.4" cy="987.0" r="12" fill="#0f2638"/>
<circle cx="2024.6" cy="558.1" r="12" fill="#0f2638"/>
<rect x="1539.7" y="258.7" width="85.4" height="22.0" fill="#ffff50" />
<text x="1540.5" y="274.8" font-size="19.3" fill="#111" stroke="#111" stroke-width="0.45" text-anchor="start" textLength="82.4" lengthAdjust="spacingAndGlyphs" >HPM_SL1</text>
<rect x="1539.7" y="307.0" width="85.4" height="22.2" fill="#ffff50" />
<text x="1540.5" y="324.0" font-size="19.3" fill="#111" stroke="#111" stroke-width="0.45" text-anchor="start" textLength="82.4" lengthAdjust="spacingAndGlyphs" >HPM_SL2</text>
<rect x="1544.0" y="492.5" width="85.2" height="21.5" fill="#ffff50" />
<text x="1544.8" y="509.8" font-size="19.3" fill="#111" stroke="#111" stroke-width="0.45" text-anchor="start" textLength="82.2" lengthAdjust="spacingAndGlyphs" >HPM_SL3</text>
<rect x="1544.0" y="537.5" width="85.2" height="22.2" fill="#ffff50" />
<text x="1544.8" y="555.0" font-size="19.3" fill="#111" stroke="#111" stroke-width="0.45" text-anchor="start" textLength="82.2" lengthAdjust="spacingAndGlyphs" >HPM_SL4</text>
<rect x="1542.4" y="810.5" width="85.9" height="22.1" fill="#ffff50" />
<text x="1543.2" y="828.4" font-size="19.3" fill="#111" stroke="#111" stroke-width="0.45" text-anchor="start" textLength="82.9" lengthAdjust="spacingAndGlyphs" >HPM_SL7</text>
<rect x="1542.4" y="850.0" width="85.9" height="22.3" fill="#ffff50" />
<text x="1543.2" y="868.2" font-size="19.3" fill="#111" stroke="#111" stroke-width="0.45" text-anchor="start" textLength="82.9" lengthAdjust="spacingAndGlyphs" >HPM_SL8</text>
<rect x="1934.7" y="418.4" width="148.0" height="22.2" fill="#ffff50" />
<text x="1935.5" y="435.0" font-size="19.3" fill="#111" stroke="#111" stroke-width="0.45" text-anchor="start" textLength="145.0" lengthAdjust="spacingAndGlyphs" >HPM_SL12/SL11</text>
<rect x="1932.3" y="468.3" width="147.7" height="22.7" fill="#ffff50" />
<text x="1933.1" y="485.8" font-size="19.3" fill="#111" stroke="#111" stroke-width="0.45" text-anchor="start" textLength="144.7" lengthAdjust="spacingAndGlyphs" >HPM_SL14/SL13</text>
<rect x="1964.2" y="521.8" width="103.8" height="22.7" fill="#ffff50" />
<text x="1965.0" y="539.7" font-size="19.3" fill="#111" stroke="#111" stroke-width="0.45" text-anchor="start" textLength="100.8" lengthAdjust="spacingAndGlyphs" >HPM_BOSS</text>
<rect x="1931.4" y="600.6" width="148.6" height="22.1" fill="#ffff50" />
<text x="1932.2" y="618.1" font-size="19.3" fill="#111" stroke="#111" stroke-width="0.45" text-anchor="start" textLength="145.6" lengthAdjust="spacingAndGlyphs" >HPM_SL16/SL15</text>
<rect x="1931.4" y="650.4" width="148.6" height="22.2" fill="#ffff50" />
<text x="1932.2" y="668.0" font-size="19.3" fill="#111" stroke="#111" stroke-width="0.45" text-anchor="start" textLength="145.6" lengthAdjust="spacingAndGlyphs" >HPM_SL18/SL17</text>
<rect x="1934.0" y="708.6" width="148.7" height="23.1" fill="#ffff50" />
<text x="1934.8" y="726.0" font-size="19.3" fill="#111" stroke="#111" stroke-width="0.45" text-anchor="start" textLength="145.7" lengthAdjust="spacingAndGlyphs" >HPM_SL20/SL19</text>
<path d="M236 154 H744.2 V260.4" fill="none" stroke="#2f70be" stroke-width="8" stroke-linejoin="miter" stroke-linecap="butt"/>
<path d="M864 254.8 V166.6 H1441.6 V327.6 H1520.8 M1441.6 264.6 H1527.7" fill="none" stroke="#2f70be" stroke-width="8" stroke-linejoin="miter" stroke-linecap="butt"/>
<path d="M930.4 253.8 V209.5 H1847.4 V422" fill="none" stroke="#2f70be" stroke-width="8" stroke-linejoin="miter" stroke-linecap="butt"/>
<circle cx="236.0" cy="154.5" r="12" fill="#2f70be"/>
<circle cx="744.2" cy="260.4" r="12" fill="#2f70be"/>
<circle cx="863.9" cy="254.8" r="12" fill="#2f70be"/>
<circle cx="1527.7" cy="264.6" r="12" fill="#2f70be"/>
<circle cx="1520.8" cy="327.7" r="12" fill="#2f70be"/>
<circle cx="930.4" cy="253.8" r="12" fill="#2f70be"/>
<circle cx="1847.4" cy="422.1" r="12" fill="#2f70be"/>
<path d="M230.7 308.3 H331.3 V183 H693.2 V259.4" fill="none" stroke="#9bcd5f" stroke-width="8" stroke-linejoin="miter" stroke-linecap="butt"/>
<path d="M997 471.4 V291 H1426 V549.7 H1519 M1426 508.3 H1514.4" fill="none" stroke="#9bcd5f" stroke-width="8" stroke-linejoin="miter" stroke-linecap="butt"/>
<path d="M1004.7 513.3 V491.7 H1843.5 V477.5" fill="none" stroke="#9bcd5f" stroke-width="8" stroke-linejoin="miter" stroke-linecap="butt"/>
<circle cx="230.7" cy="308.3" r="12" fill="#9bcd5f"/>
<circle cx="693.4" cy="259.4" r="12" fill="#9bcd5f"/>
<circle cx="996.5" cy="471.4" r="12" fill="#9bcd5f"/>
<circle cx="1514.4" cy="508.5" r="12" fill="#9bcd5f"/>
<circle cx="1519.2" cy="549.7" r="12" fill="#9bcd5f"/>
<circle cx="1004.6" cy="513.3" r="12" fill="#9bcd5f"/>
<circle cx="1842.8" cy="477.5" r="12" fill="#9bcd5f"/>
<path d="M236.3 846.2 H382.4 V892.8 H690.5 V850" fill="none" stroke="#b4201a" stroke-width="8" stroke-linejoin="miter" stroke-linecap="butt"/>
<path d="M1002.7 596.7 H1065.2 V631.1 H1840.2 V614" fill="none" stroke="#b4201a" stroke-width="8" stroke-linejoin="miter" stroke-linecap="butt"/>
<path d="M995.3 635.3 V806 H1432 V688.7 H1852.6 V662.4" fill="none" stroke="#b4201a" stroke-width="8" stroke-linejoin="miter" stroke-linecap="butt"/>
<circle cx="236.3" cy="846.2" r="12" fill="#b4201a"/>
<circle cx="690.5" cy="850.0" r="12" fill="#b4201a"/>
<circle cx="1002.7" cy="596.5" r="12" fill="#b4201a"/>
<circle cx="1840.0" cy="614.0" r="12" fill="#b4201a"/>
<circle cx="995.3" cy="635.3" r="12" fill="#b4201a"/>
<circle cx="1852.5" cy="662.4" r="12" fill="#b4201a"/>
<path d="M233.5 1003.7 H745.4 V856.6" fill="none" stroke="#f4bd3c" stroke-width="8" stroke-linejoin="miter" stroke-linecap="butt"/>
<path d="M862.6 850 V830.6 L1430.4 835.4 L1523.3 837.6 M1431 835 V874 H1526.4" fill="none" stroke="#f4bd3c" stroke-width="8" stroke-linejoin="miter" stroke-linecap="butt"/>
<path d="M930.4 851.6 V909.4 H1844.3 V722" fill="none" stroke="#f4bd3c" stroke-width="8" stroke-linejoin="miter" stroke-linecap="butt"/>
<circle cx="233.5" cy="1003.7" r="12" fill="#f4bd3c"/>
<circle cx="745.3" cy="856.6" r="12" fill="#f4bd3c"/>
<circle cx="862.7" cy="850.0" r="12" fill="#f4bd3c"/>
<circle cx="1430.4" cy="833.8" r="12" fill="#f4bd3c"/>
<circle cx="1523.3" cy="837.7" r="12" fill="#f4bd3c"/>
<circle cx="1526.4" cy="874.0" r="12" fill="#f4bd3c"/>
<circle cx="930.4" cy="851.6" r="12" fill="#f4bd3c"/>
<circle cx="1844.6" cy="722.0" r="12" fill="#f4bd3c"/>
<text x="779.3" y="131.0" font-size="61" font-weight="bold" fill="#000000" stroke="#000000" stroke-width="0.3" text-anchor="start" >PBB</text>
<text x="1598.9" y="131.5" font-size="61" font-weight="bold" fill="#000000" stroke="#000000" stroke-width="0.3" text-anchor="start" >HPM</text>
<text x="84.5" y="494.8" font-size="41" font-weight="bold" fill="#000000" stroke="#000000" stroke-width="0.3" text-anchor="start" >Front</text>
<text x="2024.5" y="341.2" font-size="41" font-weight="bold" fill="#000000" stroke="#000000" stroke-width="0.3" text-anchor="start" >Rear</text>
<text x="85.2" y="47.8" font-size="26.1" font-weight="bold" fill="#000000" stroke="#000000" stroke-width="0.3" text-anchor="start" >Drive Slot</text>
<text x="214.4" y="55.8" font-size="26.1" font-weight="bold" fill="#000000" stroke="#000000" stroke-width="0.3" text-anchor="start" >Bay1</text>
<text x="90.2" y="143.0" font-size="25.7" fill="#000000" stroke="#000000" stroke-width="0.45" text-anchor="start" >Slot 0</text>
<text x="90.2" y="174.0" font-size="25.7" fill="#000000" stroke="#000000" stroke-width="0.45" text-anchor="start" >Slot 1</text>
<text x="191.8" y="186.8" font-size="19.3" fill="#1a1a1a" stroke="#1a1a1a" stroke-width="0.45" text-anchor="start" >BP1_DST_PA1</text>
<text x="214.4" y="215.0" font-size="26.1" font-weight="bold" fill="#000000" stroke="#000000" stroke-width="0.3" text-anchor="start" >Bay2</text>
<text x="90.2" y="297.7" font-size="25.7" fill="#000000" stroke="#000000" stroke-width="0.45" text-anchor="start" >Slot 2</text>
<text x="90.2" y="327.6" font-size="25.7" fill="#000000" stroke="#000000" stroke-width="0.45" text-anchor="start" >Slot 3</text>
<text x="195.8" y="341.5" font-size="19.3" fill="#1a1a1a" stroke="#1a1a1a" stroke-width="0.45" text-anchor="start" >BP2_DST_PA1</text>
<text x="86.1" y="738.8" font-size="26.1" font-weight="bold" fill="#000000" stroke="#000000" stroke-width="0.3" text-anchor="start" >Drive Slot</text>
<text x="214.4" y="742.5" font-size="26.1" font-weight="bold" fill="#000000" stroke="#000000" stroke-width="0.3" text-anchor="start" >Bay3</text>
<text x="90.2" y="826.4" font-size="25.7" fill="#000000" stroke="#000000" stroke-width="0.45" text-anchor="start" >Slot 4</text>
<text x="90.2" y="855.0" font-size="25.7" fill="#000000" stroke="#000000" stroke-width="0.45" text-anchor="start" >Slot 5</text>
<text x="193.2" y="880.0" font-size="19.3" fill="#1a1a1a" stroke="#1a1a1a" stroke-width="0.45" text-anchor="start" >BP3_DST_PA1</text>
<text x="214.4" y="901.5" font-size="26.1" font-weight="bold" fill="#000000" stroke="#000000" stroke-width="0.3" text-anchor="start" >Bay4</text>
<text x="90.2" y="980.6" font-size="25.7" fill="#000000" stroke="#000000" stroke-width="0.45" text-anchor="start" >Slot 6</text>
<text x="90.2" y="1011.0" font-size="25.7" fill="#000000" stroke="#000000" stroke-width="0.45" text-anchor="start" >Slot 7</text>
<text x="195.8" y="1038.7" font-size="19.3" fill="#1a1a1a" stroke="#1a1a1a" stroke-width="0.45" text-anchor="start" >BP4_DST_PA1</text>
<text x="400.5" y="311.7" font-size="25.7" fill="#000000" stroke="#000000" stroke-width="0.45" text-anchor="start" >Slot 21</text>
<text x="402.1" y="343.0" font-size="25.7" fill="#000000" stroke="#000000" stroke-width="0.45" text-anchor="start" >Slot 22</text>
<text x="402.1" y="378.0" font-size="25.7" fill="#000000" stroke="#000000" stroke-width="0.45" text-anchor="start" >Slot 23</text>
<text x="400.5" y="410.4" font-size="25.7" fill="#000000" stroke="#000000" stroke-width="0.45" text-anchor="start" >Slot 24</text>
<text x="402.1" y="438.7" font-size="25.7" fill="#000000" stroke="#000000" stroke-width="0.45" text-anchor="start" >Slot 25</text>
<text x="400.5" y="471.0" font-size="25.7" fill="#000000" stroke="#000000" stroke-width="0.45" text-anchor="start" >Slot 26</text>
<text x="400.5" y="506.0" font-size="25.7" fill="#000000" stroke="#000000" stroke-width="0.45" text-anchor="start" >Slot 27</text>
<text x="403.5" y="538.0" font-size="25.7" fill="#000000" stroke="#000000" stroke-width="0.45" text-anchor="start" >Slot 28</text>
<text x="404.9" y="568.3" font-size="25.7" fill="#000000" stroke="#000000" stroke-width="0.45" text-anchor="start" >Slot 29</text>
<text x="404.9" y="601.0" font-size="25.7" fill="#000000" stroke="#000000" stroke-width="0.45" text-anchor="start" >Slot 30</text>
<text x="403.5" y="636.0" font-size="25.7" fill="#000000" stroke="#000000" stroke-width="0.45" text-anchor="start" >Slot 31</text>
<text x="402.1" y="667.4" font-size="25.7" fill="#000000" stroke="#000000" stroke-width="0.45" text-anchor="start" >Slot 32</text>
<text x="403.5" y="696.0" font-size="25.7" fill="#000000" stroke="#000000" stroke-width="0.45" text-anchor="start" >Slot 33</text>
<text x="403.5" y="728.3" font-size="25.7" fill="#000000" stroke="#000000" stroke-width="0.45" text-anchor="start" >Slot 34</text>
<text x="404.9" y="762.4" font-size="25.7" fill="#000000" stroke="#000000" stroke-width="0.45" text-anchor="start" >Slot 35</text>
<text x="402.1" y="795.3" font-size="25.7" fill="#000000" stroke="#000000" stroke-width="0.45" text-anchor="start" >Slot 36</text>
<text x="1357.9" y="383.0" font-size="25.7" fill="#000000" stroke="#000000" stroke-width="0.45" text-anchor="start" >Slot 9</text>
<text x="1357.9" y="411.4" font-size="25.7" fill="#000000" stroke="#000000" stroke-width="0.45" text-anchor="start" >Slot 8</text>
<text x="1357.9" y="447.0" font-size="25.7" fill="#000000" stroke="#000000" stroke-width="0.45" text-anchor="start" >Slot 7</text>
<text x="1357.9" y="478.4" font-size="25.7" fill="#000000" stroke="#000000" stroke-width="0.45" text-anchor="start" >Slot 6</text>
<text x="1357.9" y="666.8" font-size="25.7" fill="#000000" stroke="#000000" stroke-width="0.45" text-anchor="start" >Slot 4</text>
<text x="1357.9" y="697.8" font-size="25.7" fill="#000000" stroke="#000000" stroke-width="0.45" text-anchor="start" >Slot 3</text>
<text x="1357.9" y="730.8" font-size="25.7" fill="#000000" stroke="#000000" stroke-width="0.45" text-anchor="start" >Slot 2</text>
<text x="1357.9" y="762.7" font-size="25.7" fill="#000000" stroke="#000000" stroke-width="0.45" text-anchor="start" >Slot 1</text>
<text x="534.4" y="244.3" font-size="26.1" font-weight="bold" fill="#000000" stroke="#000000" stroke-width="0.3" text-anchor="start" >GPU Slot</text>
<text x="1222.1" y="338.0" font-size="26.1" font-weight="bold" fill="#000000" stroke="#000000" stroke-width="0.3" text-anchor="start" >NIC Slot</text>
<text x="1226.4" y="790.4" font-size="26.1" font-weight="bold" fill="#000000" stroke="#000000" stroke-width="0.3" text-anchor="start" >NIC Slot</text>
<text x="1250.7" y="557.2" font-size="26.1" font-weight="bold" fill="#000000" stroke="#000000" stroke-width="0.3" text-anchor="start" >OCP Slot</text>
<text x="1259.1" y="590.4" font-size="25.7" fill="#000000" stroke="#000000" stroke-width="0.45" text-anchor="start" >Slot 5</text>
<text x="774.3" y="944.8" font-size="26.1" font-weight="bold" fill="#000000" stroke="#000000" stroke-width="0.3" text-anchor="start" >BOSS Slot</text>
<text x="817.4" y="1069.5" font-size="25.7" fill="#000000" stroke="#000000" stroke-width="0.45" text-anchor="start" >Slot 41</text>
<text x="1658.1" y="416.0" font-size="26.1" font-weight="bold" fill="#000000" stroke="#000000" stroke-width="0.3" text-anchor="start" >CPU0</text>
<text x="1654.4" y="739.9" font-size="26.1" font-weight="bold" fill="#000000" stroke="#000000" stroke-width="0.3" text-anchor="start" >CPU1</text>
<text x="446.1" y="142.8" font-size="19.3" fill="#1a1a1a" stroke="#1a1a1a" stroke-width="0.45" text-anchor="start" >DPN</text>
<text x="493.0" y="142.8" font-size="19.3" font-weight="bold" fill="#1c1cff" stroke="#1c1cff" stroke-width="0.3" text-anchor="start" textLength="67.6" lengthAdjust="spacingAndGlyphs" >NNGH2</text>
<text x="568.7" y="142.8" font-size="19.3" fill="#1c1cff" stroke="#1c1cff" stroke-width="0.45" text-anchor="start" textLength="141.0" lengthAdjust="spacingAndGlyphs" >PCIe G5 x4 + x4</text>
<text x="446.1" y="176.6" font-size="19.3" fill="#1a1a1a" stroke="#1a1a1a" stroke-width="0.45" text-anchor="start" >DPN</text>
<text x="492.6" y="176.6" font-size="19.3" font-weight="bold" fill="#1c1cff" stroke="#1c1cff" stroke-width="0.3" text-anchor="start" textLength="62.1" lengthAdjust="spacingAndGlyphs" >XVKFJ</text>
<text x="568.7" y="176.6" font-size="19.3" fill="#1c1cff" stroke="#1c1cff" stroke-width="0.45" text-anchor="start" textLength="141.0" lengthAdjust="spacingAndGlyphs" >PCIe G5 x4 + x4</text>
<text x="863.6" y="157.8" font-size="19.3" fill="#1c1cff" stroke="#1c1cff" stroke-width="0.45" text-anchor="start" >PCIe G5 x16</text>
<text x="939.3" y="192.5" font-size="19.3" fill="#1c1cff" stroke="#1c1cff" stroke-width="0.45" text-anchor="start" >PCIe G5 x16</text>
<text x="1298.0" y="159.7" font-size="19.3" fill="#1a1a1a" stroke="#1a1a1a" stroke-width="0.45" text-anchor="start" >DPN</text>
<rect x="1345.4" y="141.2" width="59.6" height="21.5" fill="#ffff50" />
<text x="1346.2" y="159.7" font-size="19.3" font-weight="bold" fill="#1c1cff" stroke="#1c1cff" stroke-width="0.3" text-anchor="start" textLength="58.1" lengthAdjust="spacingAndGlyphs" >30DXJ</text>
<text x="1295.0" y="199.6" font-size="19.3" fill="#1a1a1a" stroke="#1a1a1a" stroke-width="0.45" text-anchor="start" >DPN</text>
<rect x="1342.0" y="182.3" width="62.6" height="21.2" fill="#ffff50" />
<text x="1342.8" y="199.6" font-size="19.3" font-weight="bold" fill="#1c1cff" stroke="#1c1cff" stroke-width="0.3" text-anchor="start" textLength="61.1" lengthAdjust="spacingAndGlyphs" >Y2R8X</text>
<text x="1300.3" y="278.7" font-size="19.3" fill="#1a1a1a" stroke="#1a1a1a" stroke-width="0.45" text-anchor="start" >DPN</text>
<rect x="1347.3" y="262.0" width="60.9" height="22.0" fill="#ffff50" />
<text x="1348.1" y="278.7" font-size="19.3" font-weight="bold" fill="#1c1cff" stroke="#1c1cff" stroke-width="0.3" text-anchor="start" textLength="59.4" lengthAdjust="spacingAndGlyphs" >7XTG6</text>
<text x="1645.2" y="481.2" font-size="19.3" fill="#1a1a1a" stroke="#1a1a1a" stroke-width="0.45" text-anchor="start" >DPN</text>
<text x="1692.1" y="481.2" font-size="19.3" font-weight="bold" fill="#1c1cff" stroke="#1c1cff" stroke-width="0.3" text-anchor="start" textLength="61.1" lengthAdjust="spacingAndGlyphs" >95M10</text>
<text x="1433.3" y="621.2" font-size="19.3" fill="#1a1a1a" stroke="#1a1a1a" stroke-width="0.45" text-anchor="start" >DPN</text>
<text x="1480.0" y="621.2" font-size="19.3" font-weight="bold" fill="#1c1cff" stroke="#1c1cff" stroke-width="0.3" text-anchor="start" textLength="61.5" lengthAdjust="spacingAndGlyphs" >77VYK</text>
<text x="1434.2" y="681.2" font-size="19.3" fill="#1a1a1a" stroke="#1a1a1a" stroke-width="0.45" text-anchor="start" >DPN</text>
<text x="1480.8" y="681.2" font-size="19.3" font-weight="bold" fill="#1c1cff" stroke="#1c1cff" stroke-width="0.3" text-anchor="start" textLength="61.0" lengthAdjust="spacingAndGlyphs" >823RK</text>
<text x="1305.0" y="826.7" font-size="19.3" fill="#1a1a1a" stroke="#1a1a1a" stroke-width="0.45" text-anchor="start" >DPN</text>
<rect x="1345.0" y="812.5" width="69.5" height="15.5" fill="#ffff50" />
<text x="1345.8" y="826.7" font-size="19.3" font-weight="bold" fill="#1c1cff" stroke="#1c1cff" stroke-width="0.3" text-anchor="start" textLength="68.0" lengthAdjust="spacingAndGlyphs" >TWXPM</text>
<text x="1306.5" y="902.7" font-size="19.3" fill="#1a1a1a" stroke="#1a1a1a" stroke-width="0.45" text-anchor="start" >DPN</text>
<rect x="1353.6" y="884.9" width="59.0" height="20.5" fill="#ffff50" />
<text x="1354.4" y="902.7" font-size="19.3" font-weight="bold" fill="#1c1cff" stroke="#1c1cff" stroke-width="0.3" text-anchor="start" textLength="57.5" lengthAdjust="spacingAndGlyphs" >FP87V</text>
<text x="1432.8" y="978.4" font-size="19.3" fill="#1a1a1a" stroke="#1a1a1a" stroke-width="0.45" text-anchor="start" >DPN</text>
<text x="1479.8" y="978.4" font-size="19.3" font-weight="bold" fill="#1c1cff" stroke="#1c1cff" stroke-width="0.3" text-anchor="start" textLength="73.5" lengthAdjust="spacingAndGlyphs" >KG1GW</text>
<text x="397.5" y="882.7" font-size="19.3" fill="#1a1a1a" stroke="#1a1a1a" stroke-width="0.45" text-anchor="start" >DPN</text>
<text x="445.3" y="882.7" font-size="19.3" font-weight="bold" fill="#1c1cff" stroke="#1c1cff" stroke-width="0.3" text-anchor="start" textLength="68.0" lengthAdjust="spacingAndGlyphs" >YRJVM</text>
<text x="535.8" y="880.4" font-size="19.3" fill="#1c1cff" stroke="#1c1cff" stroke-width="0.45" text-anchor="start" textLength="141.0" lengthAdjust="spacingAndGlyphs" >PCIe G5 x4 + x4</text>
<text x="389.2" y="990.7" font-size="19.3" fill="#1a1a1a" stroke="#1a1a1a" stroke-width="0.45" text-anchor="start" >DPN</text>
<text x="436.3" y="990.7" font-size="19.3" font-weight="bold" fill="#1c1cff" stroke="#1c1cff" stroke-width="0.3" text-anchor="start" textLength="58.0" lengthAdjust="spacingAndGlyphs" >68R58</text>
<text x="539.4" y="990.0" font-size="19.3" fill="#1c1cff" stroke="#1c1cff" stroke-width="0.45" text-anchor="start" textLength="141.0" lengthAdjust="spacingAndGlyphs" >PCIe G5 x4 + x4</text>
<text x="946.2" y="973.8" font-size="19.3" fill="#1c1cff" stroke="#1c1cff" stroke-width="0.45" text-anchor="start" >PCIe G3 x4</text>
<text x="1013.5" y="433.5" font-size="19.3" fill="#1c1cff" stroke="#1c1cff" stroke-width="0.45" text-anchor="start" >PCIe G5 x16</text>
<text x="1031.6" y="516.2" font-size="19.3" fill="#1c1cff" stroke="#1c1cff" stroke-width="0.45" text-anchor="start" >PCIe G5 x16</text>
<text x="1068.8" y="650.4" font-size="19.3" fill="#1c1cff" stroke="#1c1cff" stroke-width="0.45" text-anchor="start" >PCIe G5 x16</text>
<text x="1009.8" y="729.4" font-size="19.3" fill="#1c1cff" stroke="#1c1cff" stroke-width="0.45" text-anchor="start" >PCIe G5 x16</text>
<text x="921.3" y="825.2" font-size="19.3" fill="#1c1cff" stroke="#1c1cff" stroke-width="0.45" text-anchor="start" >PCIe G5 x16</text>
<text x="947.7" y="895.4" font-size="19.3" fill="#1c1cff" stroke="#1c1cff" stroke-width="0.45" text-anchor="start" >PCIe G5x16</text>
<text x="436.4" y="269.8" font-size="19.3" fill="#1a1a1a" stroke="#1a1a1a" stroke-width="0.45" text-anchor="start" textLength="245.0" lengthAdjust="spacingAndGlyphs" >PBB_R2_SL1 (<tspan font-weight="bold">J_PBB_SL1</tspan>)</text>
<text x="764.3" y="284.8" font-size="19.3" fill="#1a1a1a" stroke="#1a1a1a" stroke-width="0.45" text-anchor="start" >PBB_R1_DSL1/DSL2 (<tspan font-weight="bold">J_PBB_SL7</tspan>)</text>
<text x="943.3" y="240.4" font-size="19.3" fill="#1a1a1a" stroke="#1a1a1a" stroke-width="0.45" text-anchor="start" >PBB_R1_DSL3/DSL4 (<tspan font-weight="bold">J_PBB_SL8</tspan>)</text>
<text x="1012.6" y="455.3" font-size="19.3" fill="#1a1a1a" stroke="#1a1a1a" stroke-width="0.45" text-anchor="start" >PBB_R2_DSL2/DSL1</text>
<text x="1012.6" y="478.8" font-size="19.3" fill="#1a1a1a" stroke="#1a1a1a" stroke-width="0.45" text-anchor="start" >(<tspan font-weight="bold">J_PBB_SL11</tspan>)</text>
<text x="971.1" y="534.0" font-size="19.3" fill="#1a1a1a" stroke="#1a1a1a" stroke-width="0.45" text-anchor="start" >PBB_R2_DSL4/DSL3</text>
<text x="971.1" y="557.2" font-size="19.3" fill="#1a1a1a" stroke="#1a1a1a" stroke-width="0.45" text-anchor="start" >(<tspan font-weight="bold">J_PBB_SL12</tspan>)</text>
<text x="1015.4" y="590.4" font-size="19.3" fill="#1a1a1a" stroke="#1a1a1a" stroke-width="0.45" text-anchor="start" >PBB_R3_DSL2/DSL1</text>
<text x="1069.8" y="613.5" font-size="19.3" fill="#1a1a1a" stroke="#1a1a1a" stroke-width="0.45" text-anchor="start" >(<tspan font-weight="bold">J_PBB_SL13</tspan>)</text>
<text x="1012.6" y="680.0" font-size="19.3" fill="#1a1a1a" stroke="#1a1a1a" stroke-width="0.45" text-anchor="start" >PBB_R3_DSL4/DSL3</text>
<text x="1012.6" y="703.0" font-size="19.3" fill="#1a1a1a" stroke="#1a1a1a" stroke-width="0.45" text-anchor="start" >(<tspan font-weight="bold">J_PBB_SL14</tspan>)</text>
<text x="699.4" y="818.2" font-size="19.3" fill="#1a1a1a" stroke="#1a1a1a" stroke-width="0.45" text-anchor="start" >PBB_R4_SL1</text>
<text x="699.8" y="841.0" font-size="19.3" fill="#1a1a1a" stroke="#1a1a1a" stroke-width="0.45" text-anchor="start" >(<tspan font-weight="bold">J_PBB_SL5</tspan>)</text>
<text x="746.5" y="878.2" font-size="19.3" fill="#1a1a1a" stroke="#1a1a1a" stroke-width="0.45" text-anchor="start" >PBB_R4_DSL2/DSL1</text>
<text x="747.0" y="901.8" font-size="19.3" fill="#1a1a1a" stroke="#1a1a1a" stroke-width="0.45" text-anchor="start" >(<tspan font-weight="bold">J_PBB_SL9</tspan>)</text>
<text x="947.7" y="862.7" font-size="19.3" fill="#1a1a1a" stroke="#1a1a1a" stroke-width="0.45" text-anchor="start" >PBB_R4_DSL4/DSL3 (<tspan font-weight="bold">J_PBB_SL10</tspan>)</text>
<text x="569.8" y="917.7" font-size="19.3" fill="#1a1a1a" stroke="#1a1a1a" stroke-width="0.45" text-anchor="start" >PBB_R3_SL1</text>
<text x="570.2" y="940.7" font-size="19.3" fill="#1a1a1a" stroke="#1a1a1a" stroke-width="0.45" text-anchor="start" >(<tspan font-weight="bold">J_PBB_SL4</tspan>)</text>
<text x="59.0" y="1153.9" font-size="33" font-weight="bold" fill="#2f6fc7" text-anchor="start" textLength="488.0" lengthAdjust="spacingAndGlyphs" stroke="#2f6fc7" stroke-width="0.9" stroke-linejoin="round">Figure 9. GPU slot mapping</text>
</svg>
</body></html>
